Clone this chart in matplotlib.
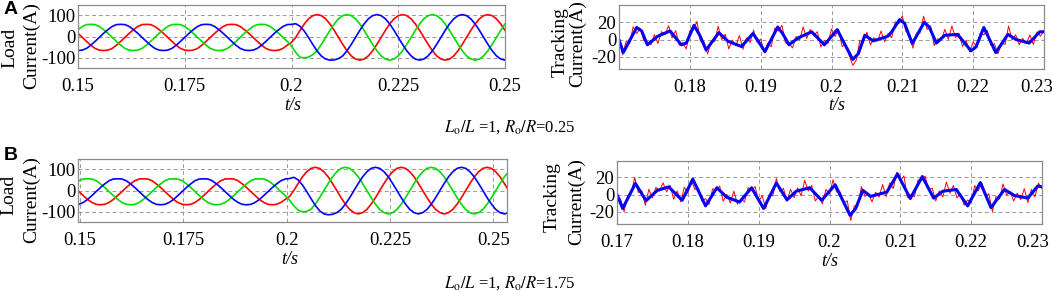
import numpy as np
import matplotlib
matplotlib.use("Agg")
import matplotlib.pyplot as plt
from matplotlib.ticker import FormatStrFormatter
from matplotlib.transforms import ScaledTranslation

plt.rcParams["font.family"] = "Liberation Serif"
plt.rcParams["mathtext.fontset"] = "stix"
plt.rcParams["axes.unicode_minus"] = False

# ---- load currents (A), sampled every 1 ms from 0.15 s to 0.25 s ----
load_t_a = np.linspace(0.15, 0.25, 101)
load_red_a = [15, -4, -23, -41, -56, -64, -66, -64, -56, -41,
              -23, -4, 15, 32, 47, 56, 57, 56, 47, 32,
              15, -4, -23, -41, -56, -64, -66, -64, -56, -41,
              -23, -4, 15, 32, 47, 56, 57, 56, 47, 32,
              15, -4, -23, -41, -56, -64, -66, -64, -56, -41,
              -28, -4, 29, 59, 83, 98, 103, 98, 83, 59,
              29, -4, -37, -67, -91, -106, -111, -106, -91, -67,
              -37, -4, 29, 59, 83, 98, 103, 98, 83, 59,
              29, -4, -37, -67, -91, -106, -111, -106, -91, -67,
              -37, -4, 29, 59, 83, 98, 103, 98, 83, 59,
              29]
load_green_a = [32, 47, 56, 57, 56, 47, 32, 15, -4, -23,
                -41, -56, -64, -66, -64, -56, -41, -23, -4, 15,
                32, 47, 56, 57, 56, 47, 32, 15, -4, -23,
                -41, -56, -64, -66, -64, -56, -41, -23, -4, 15,
                32, 47, 56, 57, 56, 47, 32, 15, -4, -23,
                -45, -75, -98, -100, -97, -85, -67, -37, -4, 29,
                59, 83, 98, 103, 98, 83, 59, 29, -4, -37,
                -67, -91, -106, -111, -106, -91, -67, -37, -4, 29,
                59, 83, 98, 103, 98, 83, 59, 29, -4, -37,
                -67, -91, -106, -111, -106, -91, -67, -37, -4, 29,
                59]
load_blue_a = [-66, -64, -56, -41, -23, -4, 15, 32, 47, 56,
               57, 56, 47, 32, 15, -4, -23, -41, -56, -64,
               -66, -64, -56, -41, -23, -4, 15, 32, 47, 56,
               57, 56, 47, 32, 15, -4, -23, -41, -56, -64,
               -66, -64, -56, -41, -23, -4, 15, 32, 47, 56,
               57, 60, 48, 25, -5, -38, -68, -92, -106, -111,
               -110, -104, -91, -67, -37, -4, 29, 59, 83, 98,
               103, 98, 83, 59, 29, -4, -37, -67, -91, -106,
               -111, -106, -91, -67, -37, -4, 29, 59, 83, 98,
               103, 98, 83, 59, 29, -4, -37, -67, -91, -106,
               -111]

# ---- load currents (B), sampled every 1.04 ms ----
load_t_b = np.linspace(0.1487, 0.2537, 102)
load_red_b = [14, -5, -24, -42, -56, -65, -67, -65, -56, -42,
              -24, -5, 14, 31, 46, 54, 55, 54, 46, 31,
              14, -5, -24, -42, -56, -65, -67, -65, -56, -42,
              -24, -5, 14, 31, 46, 54, 55, 54, 46, 31,
              14, -5, -24, -42, -56, -65, -67, -65, -56, -42,
              -28, 0, 33, 64, 88, 104, 109, 104, 88, 64,
              33, 0, -34, -64, -89, -104, -110, -104, -89, -64,
              -34, 0, 33, 64, 88, 104, 109, 104, 88, 64,
              33, 0, -34, -64, -89, -104, -110, -104, -89, -64,
              -34, 0, 33, 64, 88, 104, 109, 104, 88, 64,
              33, 0]
load_green_b = [31, 46, 54, 55, 54, 46, 31, 14, -5, -24,
                -42, -56, -65, -67, -65, -56, -42, -24, -5, 14,
                31, 46, 54, 55, 54, 46, 31, 14, -5, -24,
                -42, -56, -65, -67, -65, -56, -42, -24, -5, 14,
                31, 46, 54, 55, 54, 46, 31, 14, -5, -24,
                -45, -72, -92, -100, -98, -88, -64, -34, 0, 33,
                64, 88, 104, 109, 104, 88, 64, 33, 0, -34,
                -64, -89, -104, -110, -104, -89, -64, -34, 0, 33,
                64, 88, 104, 109, 104, 88, 64, 33, 0, -34,
                -64, -89, -104, -110, -104, -89, -64, -34, 0, 33,
                64, 88]
load_blue_b = [-67, -65, -56, -42, -24, -5, 14, 31, 46, 54,
               55, 54, 46, 31, 14, -5, -24, -42, -56, -65,
               -67, -65, -56, -42, -24, -5, 14, 31, 46, 54,
               55, 54, 46, 31, 14, -5, -24, -42, -56, -65,
               -67, -65, -56, -42, -24, -5, 14, 31, 46, 54,
               56, 62, 50, 26, -5, -38, -70, -95, -110, -114,
               -112, -104, -89, -64, -34, 0, 33, 64, 88, 104,
               109, 104, 88, 64, 33, 0, -34, -64, -89, -104,
               -110, -104, -89, -64, -34, 0, 33, 64, 88, 104,
               109, 104, 88, 64, 33, 0, -34, -64, -89, -104,
               -110, -104]

# ---- tracking current: measured (red, every 0.5 ms) and reference (blue) ----
track_t = np.linspace(0.17, 0.23, 121)
track_red_a = [3.4, -17.6, -2.1, -4.6, 14.9, 7.2, 12.8, -1.1, -2.6, -6.1,
               5.8, -4.5, 9.2, 5.8, 16.1, 1.9, 10.5, -6.4, -3.7, -10.8,
               10.4, 11.2, 20.9, -2, -2.9, -16.6, -2.5, -2.1, 15.4, -0.2,
               6.2, -10.8, -0.5, -7.2, 4.8, -11.2, 2, -3.5, 11, -3.3,
               0.6, -14.4, -4.3, -8.3, 13.3, 10, 16.6, -3.9, -4.3, -9.7,
               3.6, -0.7, 14.8, 1.3, 11.7, 4.8, 9.1, -8.6, -0.9, -4.5,
               12.2, 3.5, 11.8, -8, -5.6, -18.6, -29.8, -23.7, -1.1, -3,
               8.5, -6.1, 2.2, -1.6, 9.9, -2.4, 7.4, 2.2, 20.5, 18.3,
               27.5, 9.6, 5.7, -9.9, 7.5, 7.9, 27.1, 11.8, 15.9, -7,
               0.9, -0.4, 11.8, 0.2, 15.8, 2.4, 7.4, -7.8, -0.9, -14.4,
               -2.6, -8.2, 7.1, 5.5, 10.5, -6.5, -4.8, -16.4, -3.4, -5.7,
               15.7, -0.4, 5.6, -6, 1.4, -4.8, 5.4, -5.6, 8.9, 3.9,
               10.7]
track_blue_a_t = [0.1700, 0.1706, 0.1725, 0.1732, 0.1740, 0.1755, 0.1772, 0.1788,
                  0.1795, 0.1806, 0.1814, 0.1823, 0.1841, 0.1854, 0.1873, 0.1889,
                  0.1896, 0.1906, 0.1924, 0.1931, 0.1940, 0.1953, 0.1972, 0.1990,
                  0.2008, 0.2030, 0.2038, 0.2047, 0.2059, 0.2080, 0.2085, 0.2096,
                  0.2103, 0.2114, 0.2131, 0.2138, 0.2148, 0.2160, 0.2178, 0.2197,
                  0.2204, 0.2215, 0.2232, 0.2249, 0.2261, 0.2279, 0.2294, 0.2300]
track_blue_a = [0, -15, 14, 10, -6, 4, 10, -6,
                -4, 16.5, 5, -12, 8, -2, -8, 7,
                -1, -14, 14.5, 7, -6, 2, 9, -6,
                11.5, -23, -16, 5, -1.5, 4, 9, 23,
                19, -4.5, 20, 14.5, -4, 5, 6, -13,
                -8.5, 14, -15, 6, 0, -4, 9, 9]

track_red_b = [-3.4, -4.9, -19.6, -1.3, 1.6, 19.9, 2.6, 4.4, -12.4, 6.2,
               -3.7, 8.6, 4.1, 13.8, 3.2, 10.8, -5.2, 4.3, -8.3, 8.6,
               1.4, 16.4, 6, 7.6, -7.8, -4.5, -11.5, 6.9, 5, 10,
               -7.6, 0.4, -9.6, 4.1, -11, -4.9, -8.5, 8.2, 4.6, 9.4,
               -7.8, -1.3, -16.2, 0.5, -1.5, 18.6, 3.6, 7.3, -7.7, 6.3,
               -3.4, 7.8, -1.3, 16.7, 4.2, 10.5, -7.3, -1.4, -10.7, 6,
               0.6, 17.2, 3, 3.1, -10.5, -7, -29.8, -12.9, -13.1, 9.3,
               -2, 1.6, -8.4, 2.9, -2.8, 11.9, -2.3, 13.7, 7.1, 26,
               16, 21.7, -3.2, 0.4, -2.3, 17.1, 16.1, 21.6, 5.3, 7.7,
               -7.3, 4.4, -2.8, 14.7, 1.7, 10.7, -3.7, 0.6, -12.2, -6.2,
               -8.9, 10.5, 4.4, 13.5, -1.2, 1, -19.6, -2.1, -5.1, 12.4,
               -0.6, 3.7, -7.3, 1.8, -5.8, 7, -9.1, 6.1, -2.5, 13.2,
               7.3]
track_blue_b_t = [0.1700, 0.1708, 0.1726, 0.1741, 0.1757, 0.1773, 0.1792, 0.1807,
                  0.1825, 0.1841, 0.1855, 0.1873, 0.1890, 0.1907, 0.1925, 0.1940,
                  0.1953, 0.1972, 0.1989, 0.2008, 0.2029, 0.2037, 0.2047, 0.2058,
                  0.2081, 0.2096, 0.2114, 0.2131, 0.2147, 0.2160, 0.2179, 0.2195,
                  0.2213, 0.2228, 0.2247, 0.2261, 0.2280, 0.2294, 0.2300]
track_blue_b = [0, -16, 13, -7, 5, 9, -6.5, 18,
                -13, 8, -3, -8.5, 8, -16, 13.5, -6,
                4, 8, -6.5, 11.5, -24, -16, 5, -2,
                3, 24, -4.5, 21, -4, 4, 6, -13,
                14, -15, 6, -1, -4, 10, 9]

load_ticks = [0.15, 0.175, 0.2, 0.225, 0.25]
track_ticks_a = [0.18, 0.19, 0.2, 0.21, 0.22, 0.23]
track_ticks_b = [0.17, 0.18, 0.19, 0.2, 0.21, 0.22, 0.23]
captions = [r"$L_{\mathrm{o}}/L$ =1, $R_{\mathrm{o}}/R$=0.25",
            r"$L_{\mathrm{o}}/L$ =1, $R_{\mathrm{o}}/R$=1.75"]

W, H = 1052, 292
fig = plt.figure(figsize=(W / 100, H / 100), dpi=100)


def box(x0, y0, x1, y1):
    """Pixel box (top-left origin) to figure fraction rect."""
    return [x0 / W, 1 - y1 / H, (x1 - x0) / W, (y1 - y0) / H]


def at(x, y):
    return x / W, 1 - y / H


def style(ax, xlim, ylim, xticks, yticks):
    ax.set_xlim(*xlim)
    ax.set_ylim(*ylim)
    ax.set_xticks(xticks)
    ax.set_yticks(yticks)
    ax.xaxis.set_major_formatter(FormatStrFormatter("%g"))
    ax.grid(True, linestyle=(0, (4, 3)), color="0.6", linewidth=0.7)
    ax.set_axisbelow(True)
    ax.tick_params(axis="x", length=0, labelsize=13.5, pad=7)
    ax.tick_params(axis="y", length=0, labelsize=13.5, pad=2)
    for s in ax.spines.values():
        s.set_color("0.55")
        s.set_linewidth(0.9)


def vlabel(x, y, text):
    fig.text(*at(x, y), text, rotation=90, fontsize=14, ha="center", va="center")


rows = [
    dict(load_t=load_t_a, r=load_red_a, g=load_green_a, b=load_blue_a,
         trr=track_red_a, tbt=track_blue_a_t, tb=track_blue_a,
         lbox=box(78, 5, 505, 68), rbox=box(619, 5, 1044, 69),
         lxlim=(0.15, 0.25), rticks=track_ticks_a, rylim=(-34, 40),
         last_shift=-7, letter=("A", 11, 10),
         ylabs=[(9.5, 48, "Load"), (31.5, 46, "Current(A)"),
                (560, 42, "Tracking"), (578, 44, "Current(A)")],
         ts=[(293, 106), (837, 106)], cap=(510, 127)),
    dict(load_t=load_t_b, r=load_red_b, g=load_green_b, b=load_blue_b,
         trr=track_red_b, tbt=track_blue_b_t, tb=track_blue_b,
         lbox=box(78, 159, 507, 222), rbox=box(617, 161, 1042, 224),
         lxlim=(0.1495, 0.2533), rticks=track_ticks_b, rylim=(-34, 39),
         last_shift=-9, letter=("B", 11, 155),
         ylabs=[(8.5, 195, "Load"), (32, 200, "Current(A)"),
                (552, 197, "Tracking"), (577, 202, "Current(A)")],
         ts=[(290, 260), (830, 261)], cap=(510, 283)),
]

for k, row in enumerate(rows):
    ax = fig.add_axes(row["lbox"])
    ax.plot(row["load_t"], row["r"], color="#ff0000", lw=1.2)
    ax.plot(row["load_t"], row["g"], color="#00dd00", lw=1.2)
    ax.plot(row["load_t"], row["b"], color="#0000ff", lw=1.2)
    style(ax, row["lxlim"], (-148, 148), load_ticks, [-100, 0, 100])

    ax2 = fig.add_axes(row["rbox"])
    ax2.plot(track_t, row["trr"], color="#ff0000", lw=0.7)
    ax2.plot(row["tbt"], row["tb"], color="#0000ff", lw=2.2,
             solid_joinstyle="round", solid_capstyle="round")
    style(ax2, (0.17, 0.23), row["rylim"], row["rticks"], [-20, 0, 20])
    # last tick label sits slightly inside, as in the original figure
    last = ax2.xaxis.get_major_ticks()[-1].label1
    last.set_transform(last.get_transform() +
                       ScaledTranslation(row["last_shift"] / 100, 0, fig.dpi_scale_trans))

    letter, lx, ly = row["letter"]
    fig.text(*at(lx, ly), letter, family="Liberation Sans", weight="bold",
             fontsize=14, ha="center", va="center")
    for x, y, text in row["ylabs"]:
        vlabel(x, y, text)
    for x, y in row["ts"]:
        fig.text(*at(x, y), "t/s", style="italic", fontsize=13,
                 ha="center", va="center")
    fig.text(*at(*row["cap"]), captions[k], fontsize=12, ha="center", va="center")

fig.savefig("out.png", dpi=100)
